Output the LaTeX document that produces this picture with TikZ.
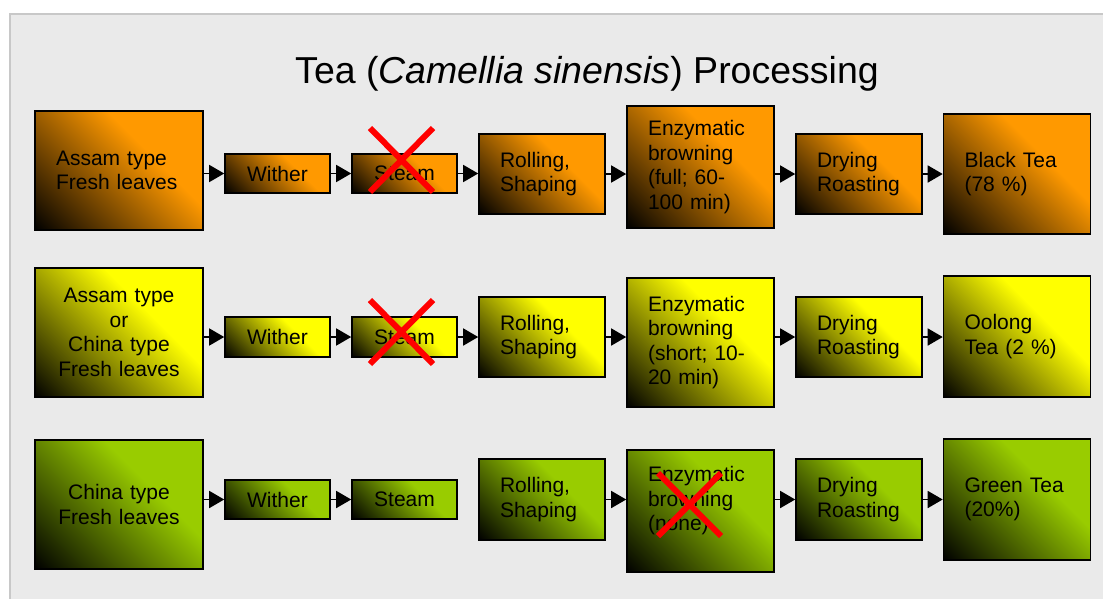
\documentclass[tikz,border=0pt]{standalone}
\usepackage{fontspec}
\setmainfont{Liberation Sans}
\usetikzlibrary{arrows.meta}
\usetikzlibrary{positioning}
\definecolor{teaorange}{HTML}{FF9900}
\definecolor{teayellow}{HTML}{FFFF00}
\definecolor{teagreen}{HTML}{99CC00}
\definecolor{panelgray}{HTML}{EAEAEA}
\definecolor{panelline}{HTML}{C8C8C8}
\colorlet{teatop}{teaorange}
% black at the bottom, full colour from two thirds up
\pgfdeclarefunctionalshading[teatop]{teashade}{\pgfpoint{-50bp}{-50bp}}{\pgfpoint{50bp}{50bp}}
  {\pgfshadecolortorgb{teatop}{\teargb}}
  {exch pop 25 add 50 div 1.5 mul dup 0 lt {pop 0} if dup 1 gt {pop 1} if
   dup \teargbred\space mul exch dup \teargbgreen\space mul exch \teargbblue\space mul}

\begin{document}
\begin{tikzpicture}[x=1pt,y=-1pt,
    stepbox/.style={draw, line width=1.6pt, inner xsep=21pt, inner ysep=2pt, align=left, font=\fontsize{21}{24.5}\selectfont},
    shadedbox/.style={stepbox, /utils/exec={\colorlet{teatop}{#1}}, path picture={
        \pgfpointdiff{\pgfpointanchor{path picture bounding box}{south west}}{\pgfpointanchor{path picture bounding box}{north east}}%
        \pgfgetlastxy{\teaw}{\teah}%
        \pgfmathsetmacro{\teak}{(\teaw+\teah)/70.98}%
        \pgftransformshift{\pgfpointanchor{path picture bounding box}{center}}%
        \pgftransformrotate{-45}%
        \pgftransformscale{\teak}%
        \pgflowlevelsynccm
        \pgftext{\pgfuseshading{teashade}}}},
    orangebox/.style={shadedbox=teaorange},
    yellowbox/.style={shadedbox=teayellow},
    greenbox/.style={shadedbox=teagreen},
    srcbox/.style={text width=126pt},
    shortbox/.style={text width=63pt, align=center},
    midbox/.style={text width=84pt},
    bigbox/.style={text width=105pt},
    flow/.style={line width=1.6pt, -{Triangle[length=15pt,width=17pt]}},
    cross/.style={draw=red, line width=6pt}]
    \useasboundingbox (0,0) rectangle (1103,598);
    \filldraw[fill=panelgray, draw=panelline, line width=2pt] (10,14) rectangle (1120,620);

    \node(title)[anchor=base, font=\fontsize{37.5}{44}\selectfont] at (587,83) {Tea (\textit{Camellia sinensis}) Processing};

    % black tea
    \node(fresh1)[orangebox, srcbox, minimum height=119pt] at (119,170.5) {Assam type\\Fresh leaves};
    \node(wither1)[orangebox, shortbox, minimum height=39pt] at (277.5,173.5) {Wither};
    \node(steam1)[orangebox, shortbox, minimum height=39pt] at (404.5,173.5) {Steam};
    \node(rolling1)[orangebox, midbox, minimum height=80pt] at (542,174) {Rolling,\\Shaping};
    \node(enzym1)[orangebox, bigbox, minimum height=122pt] at (700.5,167) {Enzymatic\\browning\\(full; 60-\\100 min)};
    \node(drying1)[orangebox, midbox, minimum height=80pt] at (859,174) {Drying\\Roasting};
    \node(black)[orangebox, bigbox, minimum height=120pt] at (1017,174) {Black Tea\\(78 \%)};

    % oolong tea
    \node(fresh2)[yellowbox, srcbox, align=center, minimum height=129pt] at (119,332.5) {Assam type\\or\\China type\\Fresh leaves};
    \node(wither2)[yellowbox, shortbox, minimum height=40pt] at (277.5,337) {Wither};
    \node(steam2)[yellowbox, shortbox, minimum height=40pt] at (404.5,337) {Steam};
    \node(rolling2)[yellowbox, midbox, minimum height=80pt] at (542,337) {Rolling,\\Shaping};
    \node(enzym2)[yellowbox, bigbox, minimum height=129pt] at (700.5,342.5) {Enzymatic\\browning\\(short; 10-\\20 min)};
    \node(drying2)[yellowbox, midbox, minimum height=80pt] at (859,337) {Drying\\Roasting};
    \node(oolong)[yellowbox, bigbox, minimum height=121pt] at (1017,336.5) {Oolong\\Tea (2 \%)};

    % green tea
    \node(fresh3)[greenbox, srcbox, align=center, minimum height=129pt] at (119,504.5) {China type\\Fresh leaves};
    \node(wither3)[greenbox, shortbox, minimum height=39pt] at (277.5,499.5) {Wither};
    \node(steam3)[greenbox, shortbox, minimum height=39pt] at (404.5,499.5) {Steam};
    \node(rolling3)[greenbox, midbox, minimum height=81pt] at (542,499.5) {Rolling,\\Shaping};
    \node(enzym3)[greenbox, bigbox, minimum height=122pt] at (700.5,511) {Enzymatic\\browning\\(none)\\\mbox{}};
    \node(drying3)[greenbox, midbox, minimum height=81pt] at (859,499.5) {Drying\\Roasting};
    \node(green)[greenbox, bigbox, minimum height=121pt] at (1017,499.5) {Green Tea\\(20\%)};

    \draw[flow] (fresh1.east |- wither1) -- (wither1.west);
    \draw[flow] (wither1) -- (steam1);
    \draw[flow] (steam1.east) -- (steam1.east -| rolling1.west);
    \draw[flow] (rolling1.east) -- (rolling1.east -| enzym1.west);
    \draw[flow] (enzym1.east |- drying1) -- (drying1.west);
    \draw[flow] (drying1) -- (black);

    \draw[flow] (fresh2.east |- wither2) -- (wither2.west);
    \draw[flow] (wither2) -- (steam2);
    \draw[flow] (steam2) -- (rolling2);
    \draw[flow] (rolling2.east) -- (rolling2.east -| enzym2.west);
    \draw[flow] (enzym2.east |- drying2) -- (drying2.west);
    \draw[flow] (drying2.east) -- (drying2.east -| oolong.west);

    \draw[flow] (fresh3.east |- wither3) -- (wither3.west);
    \draw[flow] (wither3) -- (steam3);
    \draw[flow] (rolling3.east) -- (rolling3.east -| enzym3.west);
    \draw[flow] (enzym3.east |- drying3) -- (drying3.west);
    \draw[flow] (drying3) -- (green);

    % crossed-out steps
    \draw[cross] (370,128) -- (433,192) (370,192) -- (433,128);
    \draw[cross] (370,300) -- (433,364) (370,364) -- (433,300);
    \draw[cross] (658,473) -- (721,536) (658,536) -- (721,473);
\end{tikzpicture}
\end{document}
